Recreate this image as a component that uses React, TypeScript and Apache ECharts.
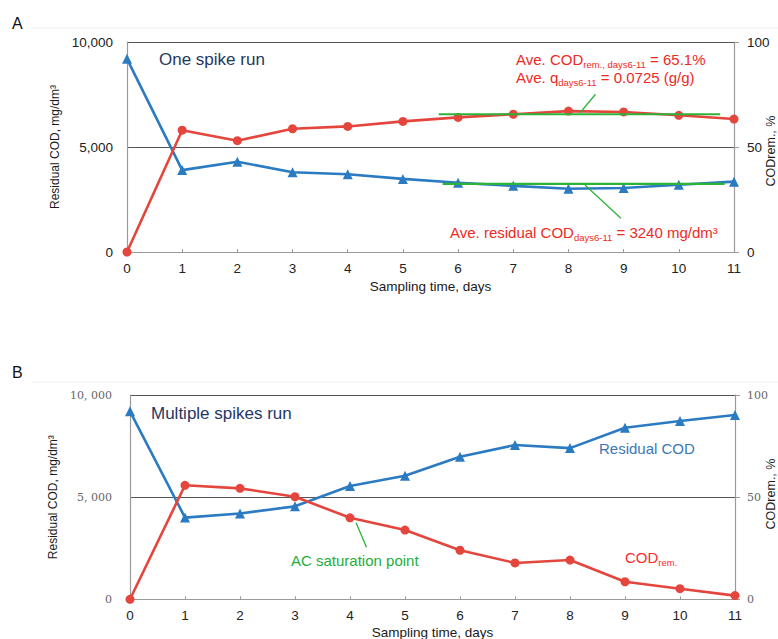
import React, { useEffect, useRef } from "react";
import * as echarts from "echarts";

// ---- Data ----
const days = [0, 1, 2, 3, 4, 5, 6, 7, 8, 9, 10, 11];
// Panel A: one spike run
const residualA = [9200, 3900, 4300, 3800, 3700, 3480, 3300, 3150, 3010, 3050, 3200, 3350];
const removalA = [0, 58, 53, 58.7, 59.8, 62.2, 64.1, 65.6, 67.1, 66.7, 65.1, 63.3];
// Panel B: multiple spikes run
const residualB = [9200, 4000, 4200, 4550, 5550, 6050, 6980, 7550, 7400, 8400, 8730, 9020];
const removalB = [0, 55.8, 54.3, 50.2, 39.9, 33.9, 24.0, 17.8, 19.2, 8.6, 5.2, 1.8];
// green average lines (panel A) and leader lines
const avgRemovalLineA = [[5.65, 65.6], [10.75, 65.6]];
const avgResidualLineA = [[5.72, 3240], [10.83, 3240]];
const leaderRemovalA = [[8.49, 75.1], [8.21, 66.3]];
const leaderResidualA = [[8.3, 3190], [8.95, 1605]];
const leaderSaturationB = [[4.11, 37.5], [4.3, 25.5]];
// ticks
const leftTicks = [0, 5000, 10000];
const rightTicks = [0, 50, 100];

const RED = "#e4453d";
const BLUE = "#2b7bc2";
const GREEN = "#2eb33a";
const SANS = "'Liberation Sans', Arial, sans-serif";
const SERIF = "'DejaVu Serif', serif";

const pairs = (arr: number[]) => days.map((d, i) => [d, arr[i]]);

export default function App() {
  const ref = useRef<HTMLDivElement>(null);
  useEffect(() => {
    if (!ref.current) return;
    const chart = echarts.init(ref.current, undefined, { renderer: "svg" });

    const xAxisBase = (gridIndex: number, serif: boolean, gap: number) => ({
      type: "value",
      gridIndex,
      min: 0,
      max: 11,
      interval: 1,
      name: "Sampling time, days",
      nameLocation: "middle",
      nameGap: gap,
      nameTextStyle: { fontFamily: SANS, fontSize: 13.5, color: "#1a1a1a" },
      axisLine: { show: true, lineStyle: { color: "#9a9a9a", width: 1.2 } },
      axisTick: { show: true, inside: true, length: 3, lineStyle: { color: "#9a9a9a" } },
      axisLabel: serif
        ? { fontFamily: SERIF, fontSize: 11, color: "#666", margin: 10 }
        : { fontFamily: SANS, fontSize: 13.5, color: "#222", margin: 9 },
      splitLine: { show: false },
    });

    const leftAxis = (gridIndex: number, serif: boolean, gap: number, margin: number) => ({
      type: "value",
      gridIndex,
      position: "left",
      min: leftTicks[0],
      max: leftTicks[leftTicks.length - 1],
      interval: leftTicks[1] - leftTicks[0],
      name: "Residual COD, mg/dm³",
      nameLocation: "middle",
      nameGap: gap,
      nameTextStyle: { fontFamily: SANS, fontSize: 12, color: "#1a1a1a" },
      axisLine: { show: true, lineStyle: { color: "#9a9a9a", width: 1.2 } },
      axisTick: { show: false },
      axisLabel: serif
        ? {
            fontFamily: SERIF,
            fontSize: 11,
            color: "#666",
            margin,
            formatter: (v: number) => v.toLocaleString("en-US").replace(",", ", "),
          }
        : {
            fontFamily: SANS,
            fontSize: 13.5,
            color: "#222",
            margin,
            formatter: (v: number) => v.toLocaleString("en-US"),
          },
      splitLine: { show: true, showMinLine: false, lineStyle: { color: "#555", width: 1 } },
    });

    const rightAxis = (gridIndex: number, serif: boolean, margin: number) => ({
      type: "value",
      gridIndex,
      position: "right",
      min: rightTicks[0],
      max: rightTicks[rightTicks.length - 1],
      interval: rightTicks[1] - rightTicks[0],
      axisLine: { show: true, lineStyle: { color: "#9a9a9a", width: 1.2 } },
      axisTick: { show: true, length: 5, lineStyle: { color: "#9a9a9a" } },
      axisLabel: serif
        ? { fontFamily: SERIF, fontSize: 11, color: "#666", margin }
        : { fontFamily: SANS, fontSize: 13.5, color: "#222", margin },
      splitLine: { show: false },
    });

    const lineSeries = (data: number[][], x: number, y: number, color: string, symbol: string) => ({
      type: "line",
      xAxisIndex: x,
      yAxisIndex: y,
      data,
      symbol,
      symbolSize: symbol === "circle" ? 9 : 10,
      showAllSymbol: true,
      lineStyle: { color, width: 2.6 },
      itemStyle: { color },
      z: 3,
    });

    const greenSeries = (data: number[][], x: number, y: number, width: number) => ({
      type: "line",
      xAxisIndex: x,
      yAxisIndex: y,
      data,
      symbol: "none",
      lineStyle: { color: GREEN, width },
      z: 4,
      silent: true,
    });

    const subRich = (size: number, color: string) => ({
      a: { fontFamily: SANS, fontSize: size, color, lineHeight: 20 },
      s: { fontFamily: SANS, fontSize: 9.5, color, lineHeight: 12, verticalAlign: "bottom" },
    });

    const txt = (x: number, y: number, text: string, size: number, color: string, rich?: any) => ({
      type: "text",
      x,
      y,
      style: {
        text,
        fontFamily: SANS,
        fontSize: size,
        fill: color,
        textAlign: "left",
        textVerticalAlign: "middle",
        rich,
      },
      z: 10,
    });

    const vtxt = (x: number, y: number, text: string) => ({
      type: "text",
      x,
      y,
      rotation: Math.PI / 2,
      style: {
        text,
        fontFamily: SANS,
        fontSize: 12.5,
        fill: "#1a1a1a",
        textAlign: "center",
        textVerticalAlign: "middle",
      },
      z: 10,
    });

    const option: any = {
      animation: false,
      backgroundColor: "#ffffff",
      grid: [
        { left: 127, top: 42, width: 607, height: 210, outerBoundsMode: "none", containLabel: false },
        { left: 130, top: 395, width: 605, height: 204.3, outerBoundsMode: "none", containLabel: false },
      ],
      xAxis: [xAxisBase(0, false, 27), xAxisBase(1, false, 26)],
      yAxis: [
        leftAxis(0, false, 61, 14),
        rightAxis(0, false, 13),
        leftAxis(1, true, 64, 18),
        rightAxis(1, true, 12),
      ],
      series: [
        lineSeries(pairs(residualA), 0, 0, BLUE, "triangle"),
        lineSeries(pairs(removalA), 0, 1, RED, "circle"),
        greenSeries(avgRemovalLineA, 0, 1, 2.2),
        greenSeries(avgResidualLineA, 0, 0, 2.2),
        greenSeries(leaderRemovalA, 0, 1, 1.3),
        greenSeries(leaderResidualA, 0, 0, 1.3),
        lineSeries(pairs(residualB), 1, 2, BLUE, "triangle"),
        lineSeries(pairs(removalB), 1, 3, RED, "circle"),
        greenSeries(leaderSaturationB, 1, 3, 1.3),
      ],
      graphic: [
        { type: "line", shape: { x1: 32, y1: 28, x2: 778, y2: 28 }, style: { stroke: "#f0f0f0", lineWidth: 1 } },
        { type: "line", shape: { x1: 32, y1: 382, x2: 778, y2: 382 }, style: { stroke: "#f0f0f0", lineWidth: 1 } },
        txt(12, 23, "A", 16, "#111"),
        txt(12, 372, "B", 16, "#111"),
        vtxt(771, 151, "CODrem., %"),
        vtxt(771, 494, "CODrem., %"),
        txt(159, 59, "One spike run", 17, "#1f3864"),
        txt(516, 59, "{a|Ave. COD}{s|rem., days6-11}{a| = 65.1%}", 15, "#ee2a24", subRich(15, "#ee2a24")),
        txt(516, 77, "{a|Ave. q}{s|days6-11}{a| = 0.0725 (g/g)}", 15, "#ee2a24", subRich(15, "#ee2a24")),
        txt(450, 232, "{a|Ave. residual COD}{s|days6-11}{a| = 3240 mg/dm³}", 15, "#ee2a24", subRich(15, "#ee2a24")),
        txt(151, 413, "Multiple spikes run", 17, "#1f3864"),
        txt(599, 448, "Residual COD", 15, "#3a78b5"),
        txt(625, 557, "{a|COD}{s|rem.}", 15, "#ff2a2a", subRich(15, "#ff2a2a")),
        txt(291, 560, "AC saturation point", 15, "#1fae3a"),
      ],
    };

    chart.setOption(option);
    return () => chart.dispose();
  }, []);

  return (
    <div
      ref={ref}
      style={{ position: "fixed", left: 0, top: 0, width: 778, height: 639, background: "#fff" }}
    />
  );
}
